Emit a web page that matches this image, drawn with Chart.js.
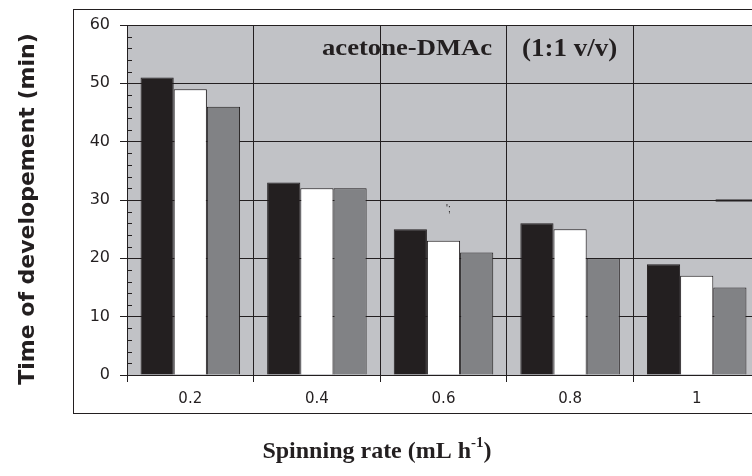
<!DOCTYPE html>
<html>
<head>
<meta charset="utf-8">
<script src="https://cdn.jsdelivr.net/npm/chart.js@4"></script>
<style>
  html, body { margin: 0; padding: 0; background: #fff; overflow: hidden; }
  #wrap { width: 800px; height: 476px; }
</style>
</head>
<body>
<div id="wrap"><canvas id="devChart" width="800" height="476"></canvas></div>
<script>
// -----------------------------
// Data
// -----------------------------
const rates = ['0.2', '0.4', '0.6', '0.8', '1'];
const seriesBlack = [51, 33, 25, 26, 19];
const seriesWhite = [49, 32, 23, 25, 17];
const seriesGray = [46, 32, 21, 20, 15];
const yTicks = [0, 10, 20, 30, 40, 50, 60];

const INK = '#231f20';

// draw text squeezed/stretched horizontally
function wideText(c, txt, x, y, sx) {
    c.save();
    c.translate(x, y);
    c.scale(sx, 1);
    c.fillText(txt, 0, 0);
    c.restore();
}

// -----------------------------
// Decorations: frame, background, minor ticks, titles
// -----------------------------
const decorPlugin = {
    id: 'decor',
    beforeDraw(chart) {
        const c = chart.ctx;
        const a = chart.chartArea;
        c.save();
        c.fillStyle = '#c1c2c6';
        c.fillRect(a.left, a.top, a.right - a.left, a.bottom - a.top);
        // outer frame
        c.strokeStyle = INK;
        c.lineWidth = 1;
        c.strokeRect(73.5, 9.5, 760, 404);
        c.restore();
    },
    afterDraw(chart) {
        const c = chart.ctx;
        const a = chart.chartArea;
        const y = chart.scales.y;
        const x = chart.scales.x;
        c.save();
        // minor ticks every 2 inside the plot
        c.strokeStyle = INK;
        c.lineWidth = 1;
        for (let v = 0; v <= 60; v += 2) {
            if (v % 10 === 0) continue;
            const py = Math.round(y.getPixelForValue(v)) + 0.5;
            c.beginPath();
            c.moveTo(a.left, py);
            c.lineTo(a.left + 5, py);
            c.stroke();
        }
        // stray dash near the last group
        const p30 = Math.round(y.getPixelForValue(30)) + 0.5;
        c.lineWidth = 2;
        c.beginPath();
        c.moveTo(x.getPixelForValue(4) + 19, p30);
        c.lineTo(a.right, p30);
        c.stroke();

        c.fillStyle = INK;
        // in-plot labels
        c.textBaseline = 'alphabetic';
        c.textAlign = 'left';
        c.font = 'bold 24px "Liberation Serif", serif';
        wideText(c, 'acetone-DMAc', 322, 55, 1.11);
        c.font = 'bold 25px "Liberation Serif", serif';
        wideText(c, '(1:1 v/v)', 522, 56, 1.08);
        c.font = '10px "Liberation Sans", sans-serif';
        c.fillText("';", 446, 212);

        // x title with superscript
        const main = 'Spinning rate (mL h';
        const sup = '-1';
        const tail = ')';
        c.font = 'bold 24px "Liberation Serif", serif';
        const wMain = c.measureText(main).width;
        const wTail = c.measureText(tail).width;
        c.font = 'bold 15px "Liberation Serif", serif';
        const wSup = c.measureText(sup).width;
        const total = wMain + wSup + wTail;
        let sx = 377 - total / 2;
        c.font = 'bold 24px "Liberation Serif", serif';
        c.fillText(main, sx, 458);
        c.font = 'bold 15px "Liberation Serif", serif';
        c.fillText(sup, sx + wMain, 447);
        c.font = 'bold 24px "Liberation Serif", serif';
        c.fillText(tail, sx + wMain + wSup, 458);

        // y title
        c.translate(34, 209);
        c.rotate(-Math.PI / 2);
        c.textAlign = 'center';
        c.textBaseline = 'alphabetic';
        c.font = 'bold 22px "DejaVu Sans", sans-serif';
        c.fillText('Time of developement (min)', 0, 0);
        c.restore();
    }
};

// -----------------------------
// Chart
// -----------------------------
const ctx = document.getElementById('devChart').getContext('2d');
const devChart = new Chart(ctx, {
    type: 'bar',
    data: {
        labels: rates,
        datasets: [
            { data: seriesBlack, backgroundColor: INK, borderColor: INK, borderWidth: 1 },
            { data: seriesWhite, backgroundColor: '#ffffff', borderColor: INK, borderWidth: 1 },
            { data: seriesGray, backgroundColor: '#818285', borderColor: INK, borderWidth: 1 }
        ]
    },
    options: {
        responsive: false,
        animation: false,
        layout: { padding: { left: 0, top: 25, right: 40, bottom: 0 } },
        categoryPercentage: 0.786,
        barPercentage: 1.0,
        plugins: { legend: { display: false }, tooltip: { enabled: false } },
        scales: {
            x: {
                grid: { color: INK, lineWidth: 1, tickLength: 7, offset: true },
                border: { color: INK, width: 1 },
                ticks: {
                    color: INK,
                    padding: 8,
                    font: { family: '"DejaVu Sans", sans-serif', size: 15 }
                },
                afterFit(scale) { scale.height = 101; }
            },
            y: {
                min: 0,
                max: 60,
                afterBuildTicks(scale) { scale.ticks = yTicks.map(v => ({ value: v })); },
                grid: { color: INK, lineWidth: 1, tickLength: 7 },
                border: { color: INK, width: 1 },
                ticks: {
                    color: INK,
                    padding: 10,
                    font: { family: '"DejaVu Sans", sans-serif', size: 16 }
                },
                afterFit(scale) { scale.width = 127; }
            }
        }
    },
    plugins: [decorPlugin]
});
</script>
</body>
</html>
